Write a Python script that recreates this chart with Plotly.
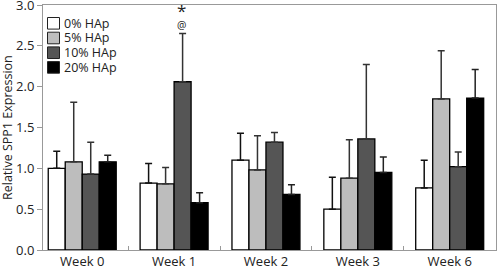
import plotly.graph_objects as go

weeks = ["Week 0", "Week 1", "Week 2", "Week 3", "Week 6"]
series_names = ["0% HAp", "5% HAp", "10% HAp", "20% HAp"]
hap0 = [1.00, 0.82, 1.10, 0.50, 0.76]
hap5 = [1.08, 0.81, 0.98, 0.88, 1.85]
hap10 = [0.93, 2.06, 1.32, 1.36, 1.02]
hap20 = [1.08, 0.58, 0.68, 0.95, 1.86]
err0 = [0.21, 0.24, 0.33, 0.39, 0.34]
err5 = [0.73, 0.20, 0.42, 0.47, 0.59]
err10 = [0.39, 0.59, 0.12, 0.91, 0.18]
err20 = [0.08, 0.12, 0.12, 0.19, 0.35]
y_ticks = [0.0, 0.5, 1.0, 1.5, 2.0, 2.5, 3.0]

values = [hap0, hap5, hap10, hap20]
errors = [err0, err5, err10, err20]
fills = ["#ffffff", "#bdbdbd", "#555555", "#000000"]
err_colors = ["#111111", "#333333", "#333333", "#222222"]

FONT = "Open Sans"
W, H = 497, 266
ML, MR, MT, MB = 43, 1, 5, 16
PW, PH = W - ML - MR, H - MT - MB


def px_x(p):
    return (p - ML) / PW


def px_y(p):
    return (H - MB - p) / PH


fig = go.Figure()
for name, v, e, c, ec in zip(series_names, values, errors, fills, err_colors):
    fig.add_trace(go.Bar(
        x=weeks, y=v, name=name, showlegend=False, hoverinfo="skip",
        marker=dict(color=c, line=dict(color="#000000", width=1.3)),
        error_y=dict(type="data", array=e, symmetric=False, arrayminus=[0] * len(e),
                     color=ec, thickness=1.5, width=3.5),
    ))

# manual legend (compact, like the reference)
row_h = 14.7
for i, (name, c) in enumerate(zip(series_names, fills)):
    cy = 23.3 + i * row_h
    fig.add_shape(type="rect", xref="paper", yref="paper",
                  x0=px_x(47.5), x1=px_x(59.5), y0=px_y(cy - 5.8), y1=px_y(cy + 5.8),
                  fillcolor=c, line=dict(color="#222222", width=1))
    fig.add_annotation(xref="paper", yref="paper", x=px_x(62.5), y=px_y(cy),
                       xanchor="left", yanchor="middle", text=name, showarrow=False,
                       borderpad=0,
                       font=dict(family=FONT, size=12.5, color="#222222"))

# significance markers above Week 1, 10% HAp bar
sig_idx = 1
top = hap10[sig_idx] + err10[sig_idx]
fig.add_annotation(x=weeks[sig_idx], y=top, text="@", showarrow=False,
                   xshift=7, yshift=1, yanchor="bottom", borderpad=0,
                   font=dict(family=FONT, size=10.5, color="#222222"))
fig.add_annotation(x=weeks[sig_idx], y=top, text="*", showarrow=False,
                   xshift=7, yshift=11, yanchor="bottom", borderpad=0,
                   font=dict(family=FONT, size=17, color="#222222"))

# y-axis title
fig.add_annotation(xref="paper", yref="paper", x=px_x(7.5), y=0.5, text="Relative SPP1 Expression",
                   textangle=-90, showarrow=False, xanchor="center", yanchor="middle",
                   font=dict(family=FONT, size=12.5, color="#222222"))

fig.update_layout(
    width=W, height=H,
    margin=dict(l=ML, r=MR, t=MT, b=MB, autoexpand=False),
    barmode="group", bargap=0.26, bargroupgap=0,
    plot_bgcolor="white", paper_bgcolor="white",
    font=dict(family=FONT, size=13, color="#222222"),
    showlegend=False, hovermode=False,
    xaxis=dict(range=[-0.427, 4.504], showline=True, linecolor="#999999", linewidth=1,
               mirror=True, ticks="inside", tickson="boundaries", ticklen=4,
               tickcolor="#999999", showgrid=False, tickfont=dict(size=13),
               automargin=False, ticklabelstandoff=-1, ticklabeloverflow="allow"),
    yaxis=dict(range=[0, 3.0], tickvals=y_ticks, ticktext=[f"{t:.1f}" for t in y_ticks],
               showline=True, linecolor="#999999", linewidth=1, mirror=True,
               ticks="outside", ticklen=5, tickcolor="#999999", showgrid=False,
               zeroline=False, tickfont=dict(size=13), automargin=False,
               ticklabeloverflow="allow"),
)

fig.write_html("out.html", config={"displayModeBar": False},
               post_script="document.body.style.margin='0';")
